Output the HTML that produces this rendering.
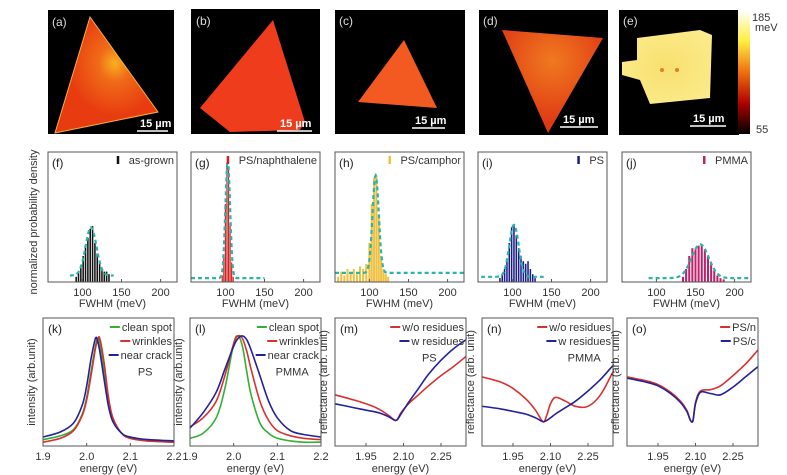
<!DOCTYPE html>
<html><head><meta charset="utf-8">
<style>
html,body{margin:0;padding:0;background:#fff;}
svg{display:block;font-family:"Liberation Sans",Arial,sans-serif;}
.t{fill:#333;font-size:11px;}
.lab{fill:#222;font-size:12px;}
</style></head>
<body>
<svg id="fig" width="787" height="475" viewBox="0 0 787 475">
<defs>
<linearGradient id="cbar" x1="0" y1="0" x2="0" y2="1">
<stop offset="0" stop-color="#ffffff"/><stop offset="0.25" stop-color="#ffee40"/><stop offset="0.5" stop-color="#f07010"/><stop offset="0.75" stop-color="#b00000"/><stop offset="1" stop-color="#000"/></linearGradient>
<radialGradient id="ga" cx="0.58" cy="0.4" r="0.45"><stop offset="0" stop-color="#f8b020"/><stop offset="0.35" stop-color="#f06a18"/><stop offset="1" stop-color="#e83c10"/></radialGradient>
<radialGradient id="gd" cx="0.5" cy="0.3" r="0.6"><stop offset="0" stop-color="#f07a20"/><stop offset="1" stop-color="#e03a14"/></radialGradient>
<radialGradient id="ge" cx="0.5" cy="0.5" r="0.6"><stop offset="0" stop-color="#f8e070"/><stop offset="1" stop-color="#fbeb8a"/></radialGradient>
</defs>
<g>
<g><rect x="48" y="10" width="126" height="124" fill="#000"/>
<polygon points="90,17 158,112 55,133" fill="url(#ga)" stroke="#f6b040" stroke-width="1"/>
<text x="52" y="26" fill="#ddd" font-size="12">(a)</text>
<text x="140" y="127" fill="#fff" font-size="11" font-weight="bold">15 µm</text><line x1="137" y1="131" x2="168" y2="131" stroke="#fff" stroke-width="1.5"/></g>
<g><rect x="191" y="9" width="129" height="125" fill="#000"/>
<polygon points="273,20 305,122 300,130 230,132 200,108" fill="#ee3c1c"/>
<text x="196" y="25" fill="#ddd" font-size="12">(b)</text>
<text x="280" y="127" fill="#fff" font-size="11" font-weight="bold">15 µm</text><line x1="277" y1="131" x2="312" y2="131" stroke="#fff" stroke-width="1.5"/></g>
<g><rect x="335" y="10" width="130" height="124" fill="#000"/>
<polygon points="404,40 437,108 358,102" fill="#f25a22"/>
<text x="339" y="25" fill="#ddd" font-size="12">(c)</text>
<text x="415" y="124" fill="#fff" font-size="11" font-weight="bold">15 µm</text><line x1="412" y1="128" x2="445" y2="128" stroke="#fff" stroke-width="1.5"/></g>
<g><rect x="479" y="10" width="129" height="125" fill="#000"/>
<polygon points="502,30 603,38 548,133" fill="url(#gd)"/>
<text x="483" y="25" fill="#ddd" font-size="12">(d)</text>
<text x="563" y="123" fill="#fff" font-size="11" font-weight="bold">15 µm</text><line x1="560" y1="127" x2="598" y2="127" stroke="#fff" stroke-width="1.5"/></g>
<g><rect x="619" y="10" width="120" height="125" fill="#000"/>
<polygon points="637,38 700,30 712,35 710,98 650,104 640,80 622,75 622,62 637,60" fill="url(#ge)"/>
<circle cx="662" cy="70" r="2" fill="#e08020"/><circle cx="677" cy="70" r="2" fill="#e08020"/>
<text x="623" y="25" fill="#ddd" font-size="12">(e)</text>
<text x="693" y="122" fill="#fff" font-size="11" font-weight="bold">15 µm</text><line x1="690" y1="126" x2="726" y2="126" stroke="#fff" stroke-width="1.5"/></g>
<rect x="738" y="10" width="12" height="124" fill="url(#cbar)"/>
<text x="752" y="21" class="t" font-size="12">185</text>
<text x="755" y="31" class="t" font-size="8">meV</text>
<text x="756" y="133" class="t" font-size="12">55</text>
</g>
<g id="hists"></g>
<g id="specs"></g>
<text x="0" y="0" class="t" transform="translate(37,222) rotate(-90)" text-anchor="middle">normalized  probability  density</text>
</svg>
<script>
// ---- histogram data ----
const histDomain = [56, 221];
const histTicks = [100, 150, 200];
const fBins = [92,95,98,101,104,107,110,113,116,119,122,125,128,131,134];
const fVals = [0.04,0.08,0.13,0.2,0.28,0.34,0.41,0.43,0.3,0.22,0.15,0.1,0.08,0.08,0.06];
const gBins = [96,98,100,102,104,106,108,110];
const gVals = [0.05,0.2,0.6,0.92,0.88,0.45,0.15,0.04];
const hBins = [60,64,68,72,76,80,84,88,92,96,100,103,106,109,112,115,118,121,124];
const hVals = [0.04,0.08,0.05,0.1,0.07,0.1,0.06,0.12,0.1,0.14,0.3,0.6,0.8,0.82,0.5,0.2,0.1,0.06,0.04];
const iBins = [84,87,90,93,96,99,102,105,108,111,114,117,120,123,126,129];
const iVals = [0.03,0.06,0.1,0.18,0.3,0.42,0.44,0.36,0.26,0.2,0.16,0.14,0.16,0.1,0.06,0.03];
const jBins = [134,138,142,146,150,154,158,162,166,170,174,178,182,186];
const jVals = [0.04,0.1,0.2,0.26,0.25,0.28,0.29,0.25,0.2,0.14,0.09,0.05,0.03,0.02];
// fit curves: [mean, peak, sigma, baseline, xStart, xEnd]
const fFit = [111, 0.42, 7, 0.05, 84, 140];
const gFit = [103, 0.94, 3, 0.03, 56, 150];
const hFit = [108, 0.82, 4, 0.07, 56, 221];
const iFit = [102, 0.44, 6, 0.04, 60, 140];
const jFit = [156, 0.29, 11, 0.03, 90, 221];

// ---- spectra data ----
const kE = [1.90,1.94,1.97,1.99,2.00,2.01,2.02,2.025,2.03,2.04,2.05,2.06,2.08,2.10,2.14,2.2];
const kGreen = [0.05,0.08,0.13,0.25,0.38,0.58,0.78,0.84,0.8,0.58,0.34,0.2,0.1,0.06,0.04,0.03];
const kRed = [0.03,0.06,0.12,0.24,0.36,0.55,0.76,0.83,0.84,0.65,0.38,0.22,0.1,0.06,0.04,0.03];
const kBlue = [0.07,0.11,0.18,0.32,0.47,0.68,0.84,0.82,0.74,0.52,0.31,0.19,0.1,0.07,0.05,0.04];
const lE = [1.90,1.93,1.96,1.98,2.00,2.01,2.02,2.03,2.04,2.06,2.08,2.10,2.13,2.16,2.2];
const lGreen = [0.06,0.1,0.22,0.45,0.8,0.86,0.78,0.58,0.4,0.18,0.1,0.06,0.04,0.03,0.03];
const lRed = [0.15,0.22,0.35,0.55,0.8,0.86,0.84,0.74,0.6,0.35,0.2,0.12,0.08,0.06,0.05];
const lBlue = [0.14,0.26,0.42,0.6,0.78,0.84,0.86,0.83,0.75,0.55,0.35,0.22,0.12,0.09,0.07];
const mE = [1.826,1.9,1.95,2.0,2.04,2.07,2.09,2.12,2.16,2.2,2.25,2.3,2.35];
const mRed = [0.4,0.36,0.33,0.29,0.24,0.2,0.26,0.33,0.4,0.47,0.55,0.62,0.7];
const mBlue = [0.33,0.3,0.28,0.26,0.23,0.2,0.25,0.34,0.45,0.56,0.67,0.76,0.83];
const nE = [1.826,1.9,1.95,2.0,2.04,2.07,2.085,2.1,2.12,2.16,2.2,2.25,2.3,2.35];
const nRed = [0.54,0.5,0.45,0.37,0.28,0.19,0.24,0.33,0.38,0.35,0.31,0.31,0.4,0.58];
const nBlue = [0.31,0.29,0.27,0.25,0.22,0.19,0.2,0.22,0.25,0.3,0.35,0.43,0.52,0.63];
const oE = [1.826,1.9,1.95,2.0,2.04,2.065,2.08,2.09,2.1,2.12,2.16,2.2,2.25,2.3,2.35];
const oRed = [0.54,0.51,0.48,0.42,0.35,0.28,0.2,0.2,0.34,0.43,0.44,0.47,0.55,0.64,0.75];
const oBlue = [0.53,0.5,0.47,0.41,0.34,0.27,0.2,0.2,0.33,0.42,0.41,0.4,0.46,0.54,0.62];
const emTicks = ["1.9","2.0","2.1","2.2"];
const refTicks = ["1.95","2.10","2.25"];

const NS = "http://www.w3.org/2000/svg";
function mk(tag, attrs, parent){const e=document.createElementNS(NS,tag);for(const k in attrs)e.setAttribute(k,attrs[k]);parent.appendChild(e);return e;}
function txt(s,x,y,cls,anchor,parent){const e=mk('text',{x:x,y:y,class:cls,'text-anchor':anchor||'start'},parent);e.textContent=s;return e;}

const H = document.getElementById('hists');
const hPanels = [
 {x:48,label:'(f)',leg:'as-grown',col:'#111',bins:fBins,vals:fVals,fit:fFit},
 {x:191,label:'(g)',leg:'PS/naphthalene',col:'#d42020',bins:gBins,vals:gVals,fit:gFit},
 {x:335,label:'(h)',leg:'PS/camphor',col:'#f0c040',bins:hBins,vals:hVals,fit:hFit},
 {x:478,label:'(i)',leg:'PS',col:'#1a1a8a',bins:iBins,vals:iVals,fit:iFit},
 {x:622,label:'(j)',leg:'PMMA',col:'#c0206a',bins:jBins,vals:jVals,fit:jFit}];
hPanels.forEach((p,pi)=>{
 const g=mk('g',{},H);
 
 
 const x0=p.x,w=129,y0=152,h=130;
 const sx=v=>x0+(v-histDomain[0])/(histDomain[1]-histDomain[0])*w;
 const sy=v=>y0+h-v*h;
 const step=p.bins.length>1?(p.bins[1]-p.bins[0]):3;
 const bw=Math.max(1.2,(sx(step)-sx(0))*0.65);
 p.bins.forEach((b,i)=>{
  const r=mk('rect',{x:sx(b)-bw/2,y:sy(p.vals[i]),width:bw,height:p.vals[i]*h,fill:p.col},g);
  
  
 });
 const f=p.fit;let d='';
 for(let v=f[4];v<=f[5];v+=0.5){const y=f[3]+(f[1]-f[3])*Math.exp(-((v-f[0])**2)/(2*f[2]*f[2]));d+=(d?'L':'M')+sx(v).toFixed(1)+','+sy(y).toFixed(1);}
 const fp=mk('path',{d:d,fill:'none',stroke:'#2ab5a8','stroke-width':2.2,'stroke-dasharray':'4,3'},g);
 
 
 mk('rect',{x:x0,y:y0,width:w,height:h,fill:'none',stroke:'#555','stroke-width':1},g);
 histTicks.forEach(t=>{mk('line',{x1:sx(t),x2:sx(t),y1:y0+h,y2:y0+h-3,stroke:'#555'},g);
  const tl=txt(String(t),sx(t),y0+h+14,'t','middle',g);
  
  });
 const xt=txt('FWHM (meV)',x0+w/2,y0+h+25,'t','middle',g);
 
 
 txt(p.label,x0+4,y0+15,'lab','start',g);
 const lt=txt(p.leg,x0+w-3,y0+12,'t','end',g);
 
 
 const lw=lt.getComputedTextLength();
 mk('rect',{x:x0+w-3-lw-12,y:y0+4,width:2.5,height:8,fill:p.col},g);
});

const S=document.getElementById('specs');
function smooth(pts){let d='M'+pts[0][0].toFixed(1)+','+pts[0][1].toFixed(1);
 for(let i=0;i<pts.length-1;i++){const p0=pts[i-1]||pts[i],p1=pts[i],p2=pts[i+1],p3=pts[i+2]||p2;
  const c1=[p1[0]+(p2[0]-p0[0])/6,p1[1]+(p2[1]-p0[1])/6],c2=[p2[0]-(p3[0]-p1[0])/6,p2[1]-(p3[1]-p1[1])/6];
  d+='C'+c1[0].toFixed(1)+','+c1[1].toFixed(1)+' '+c2[0].toFixed(1)+','+c2[1].toFixed(1)+' '+p2[0].toFixed(1)+','+p2[1].toFixed(1);}
 return d;}
const GREEN='#33b033',RED='#d83030',BLUE='#22229a';
const sPanels=[
 {x:43,label:'(k)',dom:[1.9,2.2],ticks:emTicks,ytitle:'intensity (arb.unit)',note:'PS',noteX:0.78,noteY:0.55,
  series:[[kE,kGreen,GREEN],[kE,kRed,RED],[kE,kBlue,BLUE]],leg:[['clean spot',GREEN],['wrinkles',RED],['near crack',BLUE]]},
 {x:190,label:'(l)',dom:[1.9,2.2],ticks:emTicks,ytitle:'intensity (arb.unit)',note:'PMMA',noteX:0.78,noteY:0.55,
  series:[[lE,lGreen,GREEN],[lE,lRed,RED],[lE,lBlue,BLUE]],leg:[['clean spot',GREEN],['wrinkles',RED],['near crack',BLUE]]},
 {x:335,label:'(m)',dom:[1.826,2.35],ticks:refTicks,ytitle:'reflectance (arb. unit)',note:'PS',noteX:0.72,noteY:0.66,
  series:[[mE,mRed,RED],[mE,mBlue,BLUE]],leg:[['w/o residues',RED],['w residues',BLUE]]},
 {x:482,label:'(n)',dom:[1.826,2.35],ticks:refTicks,ytitle:'reflectance (arb. unit)',note:'PMMA',noteX:0.78,noteY:0.66,
  series:[[nE,nRed,RED],[nE,nBlue,BLUE]],leg:[['w/o residues',RED],['w residues',BLUE]]},
 {x:627,label:'(o)',dom:[1.826,2.35],ticks:refTicks,ytitle:'reflectance (arb. unit)',note:'',
  series:[[oE,oRed,RED],[oE,oBlue,BLUE]],leg:[['PS/n',RED],['PS/c',BLUE]]}];
sPanels.forEach(p=>{
 const g=mk('g',{},S);
 
 
 const x0=p.x,w=131,y0=318,h=128;
 const sx=v=>x0+(v-p.dom[0])/(p.dom[1]-p.dom[0])*w;
 const sy=v=>y0+h-v*h;
 p.series.forEach(s=>{
  const pts=s[0].map((e,i)=>[sx(e),sy(s[1][i])]);
  const l=mk('path',{d:smooth(pts),fill:'none',stroke:s[2],'stroke-width':1.6},g);
  
  
 });
 mk('rect',{x:x0,y:y0,width:w,height:h,fill:'none',stroke:'#555','stroke-width':1},g);
 p.ticks.forEach(t=>{const v=parseFloat(t);mk('line',{x1:sx(v),x2:sx(v),y1:y0+h,y2:y0+h-3,stroke:'#555'},g);
  const tl=txt(t,sx(v),y0+h+14,'t','middle',g);
  
  });
 const xt=txt('energy (eV)',x0+w/2,y0+h+26,'t','middle',g);
 
 
 const yt=txt(p.ytitle,0,0,'t','middle',g);
 yt.setAttribute('transform','translate('+(x0-8)+','+(y0+h/2)+') rotate(-90)');
 
 
 txt(p.label,x0+5,y0+15,'lab','start',g);
 if(p.note) txt(p.note,x0+w*p.noteX,y0+h*(1-p.noteY),'t','middle',g).setAttribute('font-size','12');
 p.leg.forEach((L,i)=>{
  const ly=y0+9+i*14;
  const lt=txt(L[0],x0+w-2,ly+4,'t','end',g);
  
  
  const lw=lt.getComputedTextLength();
  mk('line',{x1:x0+w-2-lw-12,x2:x0+w-2-lw-2,y1:ly,y2:ly,stroke:L[1],'stroke-width':2},g);
 });
});
</script>
</body></html>
